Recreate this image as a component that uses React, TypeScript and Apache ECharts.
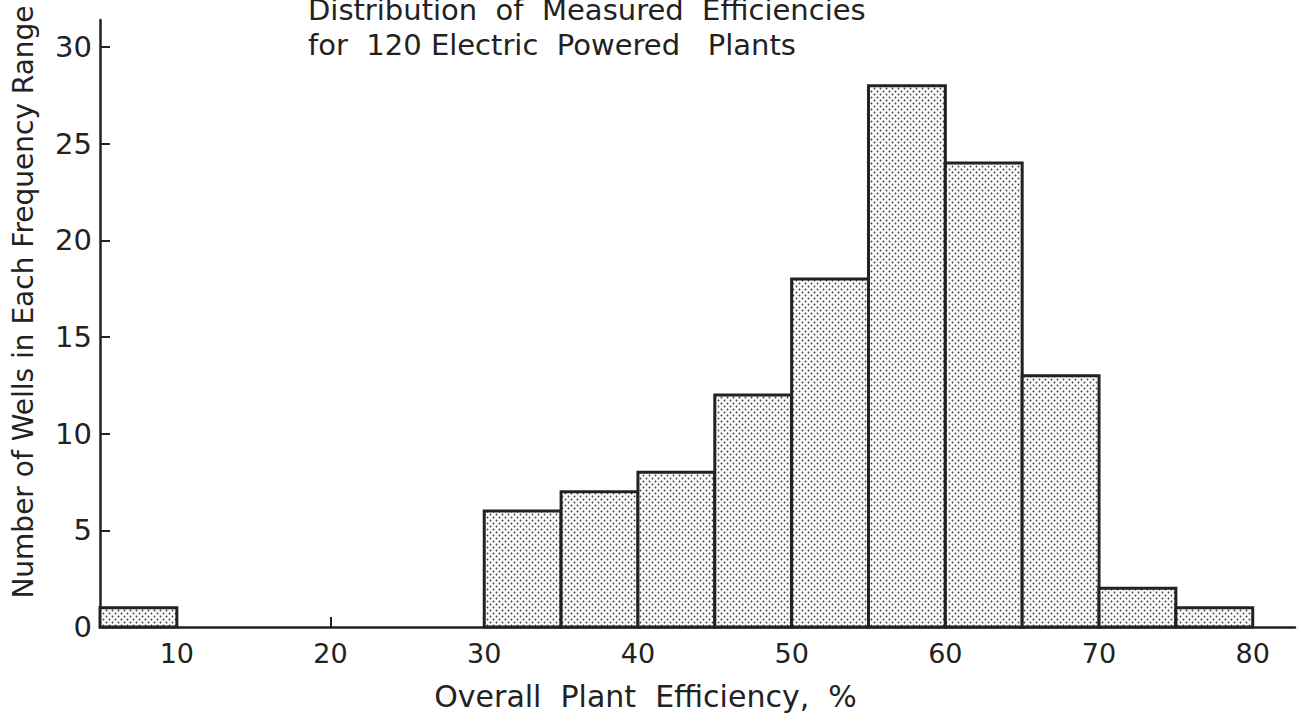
import React, { useEffect, useRef } from "react";
import * as echarts from "echarts";

const binStart = [5, 30, 35, 40, 45, 50, 55, 60, 65, 70, 75];
const binEnd = [10, 35, 40, 45, 50, 55, 60, 65, 70, 75, 80];
const counts = [1, 6, 7, 8, 12, 18, 28, 24, 13, 2, 1];
const xTicks = [10, 20, 30, 40, 50, 60, 70, 80];
const yTicks = [0, 5, 10, 15, 20, 25, 30];
const titleLines = ["Distribution  of  Measured  Efficiencies", "for  120 Electric  Powered   Plants"];
const xName = "Overall  Plant  Efficiency,  %";
const yName = "Number of Wells in Each Frequency Range";

const FONT = "'DejaVu Sans', sans-serif";
const INK = "#222";

function makePattern() {
  const c = document.createElement("canvas");
  c.width = 6;
  c.height = 6;
  const ctx = c.getContext("2d")!;
  ctx.fillStyle = "#fbfbfb";
  ctx.fillRect(0, 0, 6, 6);
  ctx.fillStyle = "#3a3a3a";
  ctx.beginPath();
  ctx.arc(1.5, 1.5, 0.9, 0, Math.PI * 2);
  ctx.fill();
  ctx.beginPath();
  ctx.arc(4.5, 4.5, 0.9, 0, Math.PI * 2);
  ctx.fill();
  return { image: c, repeat: "repeat" };
}

export default function App() {
  const ref = useRef<HTMLDivElement>(null);
  useEffect(() => {
    const chart = echarts.init(ref.current!, null, { renderer: "svg" });
    const pattern = makePattern();
    const data = binStart.map((s, i) => [s, binEnd[i], counts[i]]);
    chart.setOption({
      animation: false,
      backgroundColor: "#fff",
      textStyle: { fontFamily: FONT, color: INK },
      title: {
        text: titleLines.join("\n"),
        left: 303,
        top: -13,
        padding: 5,
        textStyle: { fontFamily: FONT, fontSize: 29, fontWeight: "normal", color: INK, lineHeight: 35 },
      },
      graphic: [
        {
          type: "text",
          x: 23,
          y: 302,
          rotation: Math.PI / 2,
          style: {
            text: yName,
            font: `28px ${FONT}`,
            fill: INK,
            textAlign: "center",
            textVerticalAlign: "middle",
          },
        },
      ],
      grid: { left: 100, top: 20, right: 6, bottom: 95, containLabel: false },
      xAxis: {
        type: "value",
        min: 5,
        max: 82.75,
        name: xName,
        nameLocation: "middle",
        nameGap: 54,
        nameTextStyle: { fontFamily: FONT, fontSize: 30, color: INK, verticalAlign: "top", padding: [0, 104, 0, 0] },
        axisLine: { show: true, onZero: false, lineStyle: { color: INK, width: 2.5 } },
        axisTick: { show: true, inside: true, length: 10, customValues: xTicks, lineStyle: { color: INK, width: 2 } },
        axisLabel: { customValues: xTicks, fontFamily: FONT, fontSize: 27, color: INK, margin: 13 },
        splitLine: { show: false },
      },
      yAxis: {
        type: "value",
        min: 0,
        max: 31.4,
        axisLine: { show: true, lineStyle: { color: INK, width: 2.5 } },
        axisTick: { show: true, inside: true, length: 10, customValues: yTicks, lineStyle: { color: INK, width: 2 } },
        axisLabel: { customValues: yTicks, fontFamily: FONT, fontSize: 29, color: INK, margin: 8 },
        splitLine: { show: false },
      },
      series: [
        {
          type: "custom",
          data,
          encode: { x: [0, 1], y: 2 },
          renderItem: (params: any, api: any) => {
            const p0 = api.coord([api.value(0), api.value(2)]);
            const p1 = api.coord([api.value(1), 0]);
            return {
              type: "rect",
              shape: { x: p0[0], y: p0[1], width: p1[0] - p0[0], height: p1[1] - p0[1] },
              style: { fill: pattern, stroke: INK, lineWidth: 3 },
            };
          },
        },
      ],
    });
    return () => chart.dispose();
  }, []);
  return <div ref={ref} style={{ position: "fixed", left: 0, top: 0, width: 1301, height: 722 }} />;
}
